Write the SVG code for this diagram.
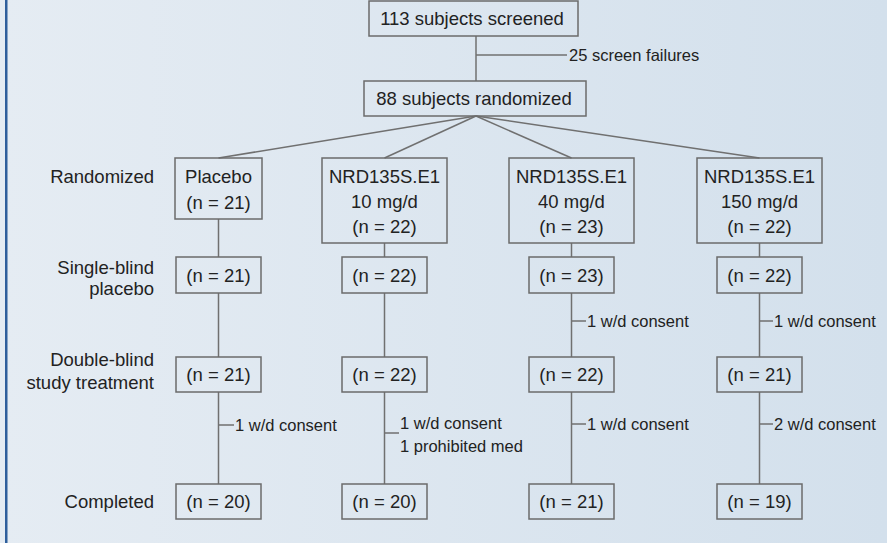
<svg xmlns="http://www.w3.org/2000/svg" width="887" height="543" viewBox="0 0 887 543">
<defs>
<linearGradient id="bg" x1="0" y1="0" x2="1" y2="0">
<stop offset="0" stop-color="#e5ecf3"/>
<stop offset="1" stop-color="#d3e0ec"/>
</linearGradient>
<style>
.box{fill:none;stroke:#6b6b6b;stroke-width:1.5}
.ln{stroke:#707070;stroke-width:1.5;fill:none}
text{font-family:"Liberation Sans",Arial,sans-serif;fill:#222}
.t{font-size:18.5px;text-anchor:middle}
.lab{font-size:18.5px;text-anchor:end}
.s{font-size:16.5px}
</style>
</defs>
<rect x="0" y="0" width="887" height="543" fill="url(#bg)"/>
<rect x="5" y="0" width="2.5" height="543" fill="#2f5f9c"/>

<g id="connectors">
<line class="ln" x1="476" y1="36" x2="476" y2="81"/>
<line class="ln" x1="476" y1="55" x2="567" y2="55"/>
<line class="ln" x1="476" y1="116" x2="218.5" y2="158"/>
<line class="ln" x1="476" y1="116" x2="384.5" y2="158"/>
<line class="ln" x1="476" y1="116" x2="571.5" y2="158"/>
<line class="ln" x1="476" y1="116" x2="759.5" y2="158"/>
<path class="ln" d="M218.5 219V257M218.5 293V357M218.5 392V484M218.5 425H234"/>
<path class="ln" d="M384.5 243V257M384.5 293V357M384.5 392V484M384.5 433H399"/>
<path class="ln" d="M571.5 243V257M571.5 293V357M571.5 392V484M571.5 321H586M571.5 424H586"/>
<path class="ln" d="M759.5 243V257M759.5 293V357M759.5 392V484M759.5 321H773M759.5 424H773"/>
<text class="s" x="569" y="61">25 screen failures</text>
<text class="s" x="235" y="431">1 w/d consent</text>
<text class="s" x="400" y="429">1 w/d consent</text>
<text class="s" x="400" y="452">1 prohibited med</text>
<text class="s" x="587" y="327">1 w/d consent</text>
<text class="s" x="587" y="430">1 w/d consent</text>
<text class="s" x="774" y="327">1 w/d consent</text>
<text class="s" x="774" y="430">2 w/d consent</text>
</g>

<g id="labels">
<text class="lab" x="154" y="183">Randomized</text>
<text class="lab" x="154" y="274">Single-blind</text>
<text class="lab" x="154" y="295">placebo</text>
<text class="lab" x="154" y="366">Double-blind</text>
<text class="lab" x="154" y="389">study treatment</text>
<text class="lab" x="154" y="508">Completed</text>
</g>

<g id="screened"><rect class="box" x="369" y="1" width="209" height="35"/><text class="t" x="472" y="25">113 subjects screened</text></g>
<g id="randomized"><rect class="box" x="364" y="81" width="222" height="35"/><text class="t" x="474" y="105">88 subjects randomized</text></g>

<g id="placebo"><rect class="box" x="175" y="158" width="87" height="61"/><text class="t" x="218.5" y="183">Placebo</text><text class="t" x="218.5" y="209">(n = 21)</text></g>
<g id="nrd10"><rect class="box" x="322" y="158" width="125" height="85"/><text class="t" x="384.5" y="183">NRD135S.E1</text><text class="t" x="384.5" y="208">10 mg/d</text><text class="t" x="384.5" y="233">(n = 22)</text></g>
<g id="nrd40"><rect class="box" x="509" y="158" width="125" height="85"/><text class="t" x="571.5" y="183">NRD135S.E1</text><text class="t" x="571.5" y="208">40 mg/d</text><text class="t" x="571.5" y="233">(n = 23)</text></g>
<g id="nrd150"><rect class="box" x="697" y="158" width="125" height="85"/><text class="t" x="759.5" y="183">NRD135S.E1</text><text class="t" x="759.5" y="208">150 mg/d</text><text class="t" x="759.5" y="233">(n = 22)</text></g>

<g id="sb-placebo"><rect class="box" x="176" y="257" width="85" height="36"/><text class="t" x="218.5" y="282">(n = 21)</text></g>
<g id="sb-nrd10"><rect class="box" x="342" y="257" width="85" height="36"/><text class="t" x="384.5" y="282">(n = 22)</text></g>
<g id="sb-nrd40"><rect class="box" x="529" y="257" width="85" height="36"/><text class="t" x="571.5" y="282">(n = 23)</text></g>
<g id="sb-nrd150"><rect class="box" x="717" y="257" width="85" height="36"/><text class="t" x="759.5" y="282">(n = 22)</text></g>

<g id="db-placebo"><rect class="box" x="176" y="357" width="85" height="35"/><text class="t" x="218.5" y="381">(n = 21)</text></g>
<g id="db-nrd10"><rect class="box" x="342" y="357" width="85" height="35"/><text class="t" x="384.5" y="381">(n = 22)</text></g>
<g id="db-nrd40"><rect class="box" x="529" y="357" width="85" height="35"/><text class="t" x="571.5" y="381">(n = 22)</text></g>
<g id="db-nrd150"><rect class="box" x="717" y="357" width="85" height="35"/><text class="t" x="759.5" y="381">(n = 21)</text></g>

<g id="c-placebo"><rect class="box" x="176" y="484" width="85" height="35"/><text class="t" x="218.5" y="508">(n = 20)</text></g>
<g id="c-nrd10"><rect class="box" x="342" y="484" width="85" height="35"/><text class="t" x="384.5" y="508">(n = 20)</text></g>
<g id="c-nrd40"><rect class="box" x="529" y="484" width="85" height="35"/><text class="t" x="571.5" y="508">(n = 21)</text></g>
<g id="c-nrd150"><rect class="box" x="717" y="484" width="85" height="35"/><text class="t" x="759.5" y="508">(n = 19)</text></g>
</svg>
